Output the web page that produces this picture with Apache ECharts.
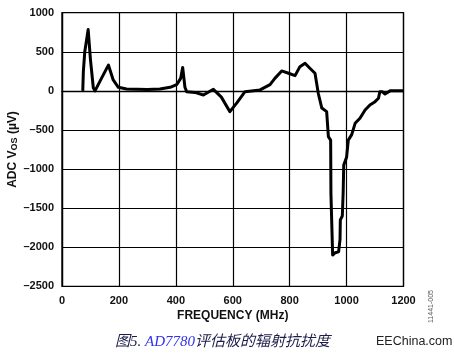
<!DOCTYPE html>
<html>
<head>
<meta charset="utf-8">
<script src="https://cdn.jsdelivr.net/npm/echarts@6/dist/echarts.min.js"></script>
<style>
html,body{margin:0;padding:0;background:#fff;}
#c{width:454px;height:356px;}
</style>
</head>
<body>
<div id="c"></div>
<script>
// Frequency (MHz)
var freq = [73, 75, 80, 92, 100, 110, 116, 140, 163, 180, 198, 227, 300, 344, 380, 403, 417, 424, 432, 438,
  467, 497, 532, 560, 590, 615, 643, 696, 731, 748, 772, 796, 819, 836, 854, 871, 889, 901, 913, 930,
  936, 944, 945, 950, 951, 960, 972, 977, 978, 985, 988, 990, 1000, 1006, 1018, 1030, 1047, 1065, 1082,
  1100, 1112, 1117, 1125, 1135, 1153, 1200];
// ADC Vos (uV)
var vos = [0, 245, 500, 785, 400, 40, 0, 170, 330, 140, 46, 24, 18, 24, 46, 80, 160, 300, 46, -10,
  -20, -52, 20, -80, -266, -150, -10, 12, 80, 160, 255, 225, 195, 310, 353, 290, 225, -40, -220, -266,
  -586, -630, -1310, -1330, -2100, -2070, -2060, -1900, -1650, -1600, -1300, -950, -850, -630, -560, -415, -350, -244, -180,
  -138, -95, -10, -10, -40, 0, 0];
var xTicks = {min: 0, max: 1200, step: 200};
var yTicks = {min: -2500, max: 1000, step: 500};
var xTitle = 'FREQUENCY (MHz)';
var caption = ['图5. ', 'AD7780', '评估板的辐射抗扰度'];
var watermark = 'EEChina.com';
var figId = '11441-005';

var pts = freq.map(function (f, i) { return [f, vos[i]]; });
var dash = function (v) { return String(v).replace('-', '\u2013'); };

var chart = echarts.init(document.getElementById('c'), null, {renderer: 'canvas'});
chart.setOption({
  animation: false,
  backgroundColor: '#fff',
  grid: {left: 62, right: 50.5, top: 12.7, bottom: 69.7, containLabel: false, outerBoundsMode: 'none',
    show: true, borderColor: '#000', borderWidth: 1.3, backgroundColor: 'transparent'},
  xAxis: {
    type: 'value', min: xTicks.min, max: xTicks.max, interval: xTicks.step,
    name: xTitle, nameLocation: 'middle', nameGap: 23, nameMoveOverlap: false,
    nameTextStyle: {fontFamily: 'Liberation Sans', fontWeight: 'bold', fontSize: 12, color: '#111'},
    axisLine: {show: true, lineStyle: {color: '#000', width: 1.3}},
    axisTick: {show: false},
    axisLabel: {fontFamily: 'Liberation Sans', fontWeight: 'bold', fontSize: 11, color: '#111', margin: 9, formatter: dash},
    splitLine: {show: true, lineStyle: {color: '#000', width: 1.2}}
  },
  yAxis: {
    type: 'value', min: yTicks.min, max: yTicks.max, interval: yTicks.step,
    name: 'ADC V{sub|OS} (µV)', nameLocation: 'middle', nameGap: 43, nameRotate: 90, nameMoveOverlap: false,
    nameTextStyle: {fontFamily: 'Liberation Sans', fontWeight: 'bold', fontSize: 12, color: '#111',
      rich: {sub: {fontFamily: 'Liberation Sans', fontWeight: 'bold', fontSize: 9, color: '#111', verticalAlign: 'bottom', padding: [4, 0, 0, 0]}}},
    axisLine: {show: true, lineStyle: {color: '#000', width: 1.3}},
    axisTick: {show: false},
    axisLabel: {fontFamily: 'Liberation Sans', fontWeight: 'bold', fontSize: 11, color: '#111', margin: 8, formatter: dash},
    splitLine: {show: true, lineStyle: {color: '#000', width: 1.2}}
  },
  series: [{
    type: 'line', data: pts, showSymbol: false, symbol: 'none',
    lineStyle: {color: '#000', width: 3, join: 'round'}
  }],
  graphic: [
    {type: 'text', left: 115, top: 335,
      style: {text: '{a|' + caption[0] + '}{b|' + caption[1] + '}{a|' + caption[2] + '}',
        rich: {
          a: {fontFamily: 'Liberation Serif, Noto Sans CJK SC', fontStyle: 'italic', fontSize: 15, fill: '#1c1c4a'},
          b: {fontFamily: 'Liberation Serif, Noto Sans CJK SC', fontStyle: 'italic', fontSize: 15, fill: '#3030ee'}
        }}},
    {type: 'text', left: 376, top: 335,
      style: {text: watermark, fontFamily: 'Liberation Sans', fontSize: 12.5, fill: '#222'}},
    {type: 'text', x: 428, y: 323, rotation: Math.PI / 2,
      style: {text: figId, fontFamily: 'Liberation Sans', fontSize: 7, fill: '#555', textAlign: 'left', textVerticalAlign: 'top'}}
  ]
});
</script>
</body>
</html>
